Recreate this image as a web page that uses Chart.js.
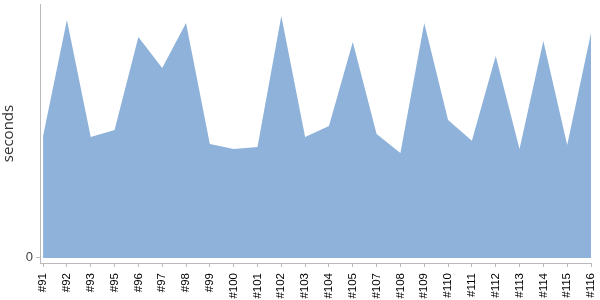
<!DOCTYPE html>
<html>
<head>
<meta charset="utf-8">
<script src="https://cdn.jsdelivr.net/npm/chart.js@4"></script>
<style>
  html, body { margin: 0; padding: 0; background: #fff; }
  #wrap { width: 600px; height: 300px; }
</style>
</head>
<body>
<div id="wrap"><canvas id="chart" width="600" height="300"></canvas></div>
<script>
// build numbers along the x axis
const builds = ['#91', '#92', '#93', '#95', '#96', '#97', '#98', '#99', '#100', '#101', '#102', '#103',
                '#104', '#105', '#107', '#108', '#109', '#110', '#111', '#112', '#113', '#114', '#115', '#116'];
// duration of each build, in seconds
const durations = [48.0, 93.7, 47.6, 50.4, 87.0, 74.8, 92.5, 44.9, 42.9, 43.7, 95.3, 47.6,
                   52.0, 85.0, 48.8, 41.3, 92.5, 54.3, 46.1, 79.5, 42.9, 85.4, 44.5, 88.6];
const yTicks = [0];

const points = durations.map((v, i) => ({ x: i, y: v }));

new Chart(document.getElementById('chart'), {
    type: 'line',
    data: {
        datasets: [{
            label: 'seconds',
            data: points,
            backgroundColor: 'rgb(143,178,218)',
            borderWidth: 0,
            pointRadius: 0,
            fill: 'origin',
            tension: 0
        }]
    },
    options: {
        responsive: false,
        animation: false,
        layout: { padding: { top: 4, right: 9, left: 0, bottom: 0 } },
        plugins: {
            legend: { display: false },
            tooltip: { enabled: false }
        },
        scales: {
            x: {
                type: 'linear',
                min: -0.13,
                max: builds.length - 1,
                afterBuildTicks: s => { s.ticks = builds.map((_, i) => ({ value: i })); },
                afterFit: s => { s.height = 37; s.paddingLeft = 0; s.paddingRight = 0; },
                grid: { drawOnChartArea: false, tickLength: 4, color: '#bbb' },
                border: { display: true, color: '#bbb' },
                ticks: {
                    autoSkip: false,
                    minRotation: 90,
                    maxRotation: 90,
                    padding: 6,
                    color: '#000',
                    font: { family: 'Arial, "Liberation Sans"', size: 11.5 },
                    callback: v => builds[v]
                }
            },
            y: {
                min: -2,
                max: 100,
                afterBuildTicks: s => { s.ticks = yTicks.map(v => ({ value: v })); },
                afterFit: s => { s.width = 40; s.paddingTop = 0; s.paddingBottom = 0; },
                grid: { drawOnChartArea: false, tickLength: 4, color: '#bbb' },
                border: { display: true, color: '#bbb' },
                ticks: {
                    padding: 3,
                    color: '#444',
                    font: { family: 'Arial, "Liberation Sans"', size: 13 }
                },
                title: {
                    display: true,
                    text: 'seconds',
                    color: '#333',
                    padding: 0,
                    font: { family: '"Open Sans", Arial', size: 15 }
                }
            }
        }
    }
});
</script>
</body>
</html>
